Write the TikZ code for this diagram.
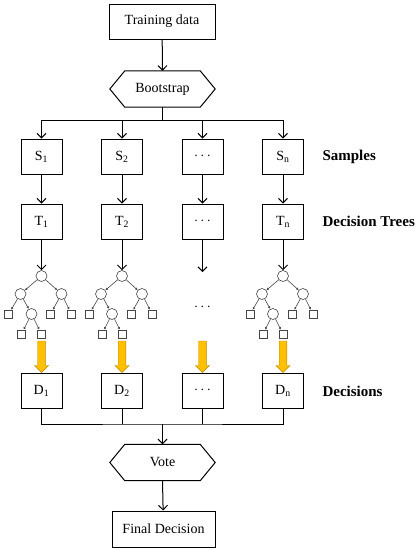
\documentclass[tikz,border=0pt]{standalone}
\usepackage{fontspec}
\setmainfont{Liberation Serif}
\usetikzlibrary{arrows.meta,calc}
\definecolor{gold}{RGB}{255,192,0}
\definecolor{golddark}{RGB}{190,135,0}
\definecolor{treegray}{RGB}{70,70,70}
\newcommand\mytree[2]{%
  \begin{scope}[shift={(#1,0)}]
    \node[tc] (#2r) at (0,276) {};
    \node[tc] (#2L) at (-21,294) {};
    \node[tc] (#2R) at (20,294) {};
    \node[tl] (#2LL) at (-33,314) {};
    \node[tc] (#2LR) at (-10,314) {};
    \node[tl] (#2RL) at (9,314) {};
    \node[tl] (#2RR) at (30,314) {};
    \node[tl] (#2LRL) at (-20,334) {};
    \node[tl] (#2LRR) at (0,334) {};
    \draw[te] (#2r) -- (#2L);
    \draw[te] (#2r) -- (#2R);
    \draw[te] (#2L) -- (#2LL);
    \draw[te] (#2L) -- (#2LR);
    \draw[te] (#2R) -- (#2RL);
    \draw[te] (#2R) -- (#2RR);
    \draw[te] (#2LR) -- (#2LRL);
    \draw[te] (#2LR) -- (#2LRR);
  \end{scope}}
\newcommand\goldarrow[2]{%
  \fill[gold, draw=golddark, line width=0.4pt]
    ($(#1)+(-3.8,0)$) -- ($(#1)+(3.8,0)$) -- ($(#2.north)+(3.8,-7)$) --
    ($(#2.north)+(7,-7)$) -- (#2.north) -- ($(#2.north)+(-7,-7)$) --
    ($(#2.north)+(-3.8,-7)$) -- cycle;}
\begin{document}
\begin{tikzpicture}[x=1pt,y=-1pt,
  box/.style={draw, line width=1pt, minimum width=41pt, minimum height=35pt, inner sep=0pt, font=\fontsize{14}{16}\selectfont},
  bigbox/.style={box, minimum width=106pt},
  hexa/.style={minimum width=105pt, minimum height=36pt, inner sep=0pt, font=\fontsize{14}{16}\selectfont},
  conn/.style={line width=1pt, -{Straight Barb[length=4.5pt,width=9pt]}},
  plain/.style={line width=1pt},
  tc/.style={circle, draw=treegray, line width=0.6pt, minimum size=11pt, inner sep=0pt},
  tl/.style={draw=treegray, line width=0.6pt, minimum size=8pt, inner sep=0pt},
  te/.style={draw=treegray, line width=0.6pt, -{Latex[length=2.5pt,width=2.5pt]}},
  lab/.style={anchor=west, font=\bfseries\fontsize{15}{17}\selectfont}
]
\useasboundingbox (0,0) rectangle (420,550);

% top
\node[bigbox] (train) at (162,21.5) {Training data};
\node[hexa] (boot) at (162.5,89) {Bootstrap};
\draw[plain] (boot.west) -- ([xshift=15pt]boot.north west) -- ([xshift=-15pt]boot.north east) -- (boot.east) -- ([xshift=-15pt]boot.south east) -- ([xshift=15pt]boot.south west) -- cycle;
\draw[conn] (train) -- (boot.north);

% samples
\node[box] (S1) at (41.5,156.5) {S\textsubscript{1}};
\node[box] (S2) at (122,156.5) {S\textsubscript{2}};
\node[box] (S3) at (202.5,156.5) {$\cdots$};
\node[box] (S4) at (283,156.5) {S\textsubscript{n}};
\coordinate (ja) at (162.5,120);
\draw[plain] (boot.south) -- (ja);
\draw[plain] (S1.north |- ja) -- (S4.north |- ja);
\foreach \n in {S1,S2,S3,S4} \draw[conn] (\n.north |- ja) -- (\n.north);

% trees
\node[box] (T1) at (41.5,221.5) {T\textsubscript{1}};
\node[box] (T2) at (122,221.5) {T\textsubscript{2}};
\node[box] (T3) at (202.5,221.5) {$\cdots$};
\node[box] (T4) at (283,221.5) {T\textsubscript{n}};
\foreach \i in {1,2,3,4} \draw[conn] (S\i) -- (T\i);

\mytree{41.5}{a}
\mytree{122}{b}
\mytree{283}{d}
\draw[conn] (T1) -- (ar);
\draw[conn] (T2) -- (br);
\draw[conn] (T4) -- (dr);
\coordinate (c3) at (202.5,272);
\draw[conn] (T3) -- (c3);
\node[font=\fontsize{14}{16}\selectfont] (dots) at (202.5,307) {$\cdots$};

% decisions
\node[box] (D1) at (41.5,390.5) {D\textsubscript{1}};
\node[box] (D2) at (122,390.5) {D\textsubscript{2}};
\node[box] (D3) at (202.5,390.5) {$\cdots$};
\node[box] (D4) at (283,390.5) {D\textsubscript{n}};
\coordinate (g1) at (41.5,341);
\coordinate (g2) at (122,341);
\coordinate (g3) at (202.5,341);
\coordinate (g4) at (283,341);
\foreach \i in {1,2,3,4} {\goldarrow{g\i}{D\i}}

% labels
\node[lab] (lsam) at (319,157) {Samples};
\node[lab] (ltree) at (319,221) {Decision Trees};
\node[lab] (ldec) at (319,391) {Decisions};

% bottom
\coordinate (jb) at (162.5,424);
\draw[plain] (D1.south) |- (jb) -| (D4.south);
\draw[plain] (D2.south) -- (D2.south |- jb);
\draw[plain] (D3.south) -- (D3.south |- jb);
\node[hexa] (vote) at (162.5,462.5) {Vote};
\draw[plain] (vote.west) -- ([xshift=15pt]vote.north west) -- ([xshift=-15pt]vote.north east) -- (vote.east) -- ([xshift=-15pt]vote.south east) -- ([xshift=15pt]vote.south west) -- cycle;
\draw[conn] (jb) -- (vote.north);
\node[bigbox, minimum width=103pt, minimum height=36pt] (final) at (163.5,529) {Final Decision};
\draw[conn] (vote.south) -- (final);
\end{tikzpicture}
\end{document}
